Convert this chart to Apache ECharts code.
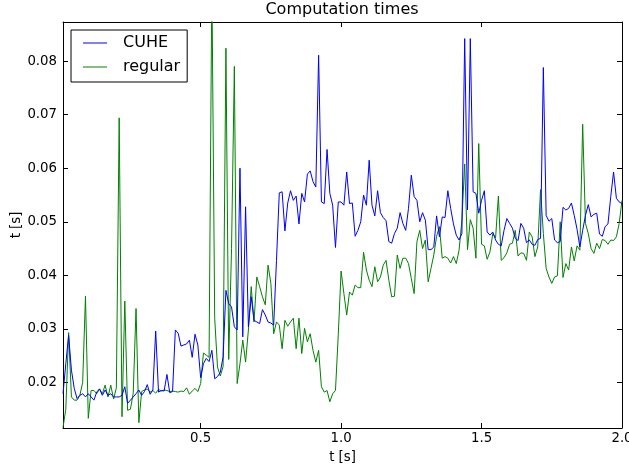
<!DOCTYPE html>
<html>
<head>
<meta charset="utf-8">
<script src="https://cdn.jsdelivr.net/npm/echarts@6/dist/echarts.min.js"></script>
<style>
  html, body { margin: 0; padding: 0; background: #fff; }
  #chart { width: 629px; height: 468px; }
</style>
</head>
<body>
<div id="chart"></div>
<script>
// sample times [s]
var times = [
  0.01, 0.02, 0.03, 0.04, 0.05, 0.06, 0.07, 0.08, 0.09, 0.10,
  0.11, 0.12, 0.13, 0.14, 0.15, 0.16, 0.17, 0.18, 0.19, 0.20,
  0.21, 0.22, 0.23, 0.24, 0.25, 0.26, 0.27, 0.28, 0.29, 0.30,
  0.31, 0.32, 0.33, 0.34, 0.35, 0.36, 0.37, 0.38, 0.39, 0.40,
  0.41, 0.42, 0.43, 0.44, 0.45, 0.46, 0.47, 0.48, 0.49, 0.50,
  0.51, 0.52, 0.53, 0.54, 0.55, 0.56, 0.57, 0.58, 0.59, 0.60,
  0.61, 0.62, 0.63, 0.64, 0.65, 0.66, 0.67, 0.68, 0.69, 0.70,
  0.71, 0.72, 0.73, 0.74, 0.75, 0.76, 0.77, 0.78, 0.79, 0.80,
  0.81, 0.82, 0.83, 0.84, 0.85, 0.86, 0.87, 0.88, 0.89, 0.90,
  0.91, 0.92, 0.93, 0.94, 0.95, 0.96, 0.97, 0.98, 0.99, 1.00,
  1.01, 1.02, 1.03, 1.04, 1.05, 1.06, 1.07, 1.08, 1.09, 1.10,
  1.11, 1.12, 1.13, 1.14, 1.15, 1.16, 1.17, 1.18, 1.19, 1.20,
  1.21, 1.22, 1.23, 1.24, 1.25, 1.26, 1.27, 1.28, 1.29, 1.30,
  1.31, 1.32, 1.33, 1.34, 1.35, 1.36, 1.37, 1.38, 1.39, 1.40,
  1.41, 1.42, 1.43, 1.44, 1.45, 1.46, 1.47, 1.48, 1.49, 1.50,
  1.51, 1.52, 1.53, 1.54, 1.55, 1.56, 1.57, 1.58, 1.59, 1.60,
  1.61, 1.62, 1.63, 1.64, 1.65, 1.66, 1.67, 1.68, 1.69, 1.70,
  1.71, 1.72, 1.73, 1.74, 1.75, 1.76, 1.77, 1.78, 1.79, 1.80,
  1.81, 1.82, 1.83, 1.84, 1.85, 1.86, 1.87, 1.88, 1.89, 1.90,
  1.91, 1.92, 1.93, 1.94, 1.95, 1.96, 1.97, 1.98, 1.99, 2.00
];

var cuhe = [
  0.0179, 0.0235, 0.0288, 0.0223, 0.0189, 0.0170, 0.0176, 0.0179, 0.0173, 0.0179,
  0.0173, 0.0167, 0.0182, 0.0188, 0.0176, 0.0186, 0.0176, 0.0179, 0.0173, 0.0173,
  0.0173, 0.0176, 0.0192, 0.0161, 0.0167, 0.0173, 0.0179, 0.0186, 0.0176, 0.0183,
  0.0196, 0.0178, 0.0186, 0.0296, 0.0182, 0.0185, 0.0184, 0.0215, 0.0181, 0.0183,
  0.0298, 0.0292, 0.0268, 0.0270, 0.0272, 0.0279, 0.0247, 0.0290, 0.0270, 0.0209,
  0.0235, 0.0245, 0.0239, 0.0260, 0.0207, 0.0211, 0.0219, 0.0248, 0.0372, 0.0347,
  0.0341, 0.0304, 0.0298, 0.0600, 0.0285, 0.0528, 0.0304, 0.0360, 0.0316, 0.0313,
  0.0310, 0.0336, 0.0326, 0.0313, 0.0311, 0.0307, 0.0428, 0.0554, 0.0556, 0.0483,
  0.0535, 0.0558, 0.0540, 0.0548, 0.0496, 0.0553, 0.0537, 0.0589, 0.0595, 0.0575,
  0.0565, 0.0811, 0.0537, 0.0534, 0.0635, 0.0553, 0.0531, 0.0452, 0.0537, 0.0537,
  0.0531, 0.0593, 0.0534, 0.0535, 0.0473, 0.0484, 0.0500, 0.0550, 0.0531, 0.0615,
  0.0531, 0.0511, 0.0558, 0.0517, 0.0508, 0.0502, 0.0463, 0.0460, 0.0478, 0.0488,
  0.0517, 0.0497, 0.0484, 0.0525, 0.0587, 0.0547, 0.0540, 0.0500, 0.0517, 0.0503,
  0.0448, 0.0448, 0.0453, 0.0511, 0.0472, 0.0509, 0.0508, 0.0558, 0.0525, 0.0496,
  0.0475, 0.0466, 0.0478, 0.0842, 0.0522, 0.0842, 0.0556, 0.0553, 0.0516, 0.0540,
  0.0558, 0.0481, 0.0475, 0.0481, 0.0466, 0.0458, 0.0455, 0.0484, 0.0506, 0.0497,
  0.0488, 0.0469, 0.0465, 0.0497, 0.0488, 0.0461, 0.0466, 0.0458, 0.0456, 0.0467,
  0.0469, 0.0788, 0.0512, 0.0501, 0.0506, 0.0466, 0.0461, 0.0463, 0.0527, 0.0522,
  0.0525, 0.0535, 0.0512, 0.0486, 0.0453, 0.0484, 0.0512, 0.0532, 0.0509, 0.0514,
  0.0516, 0.0477, 0.0473, 0.0491, 0.0496, 0.0547, 0.0593, 0.0544, 0.0537, 0.0534
];

var regular = [
  0.0116, 0.0150, 0.0293, 0.0173, 0.0167, 0.0167, 0.0176, 0.0200, 0.0361, 0.0133,
  0.0185, 0.0185, 0.0179, 0.0188, 0.0179, 0.0195, 0.0173, 0.0195, 0.0169, 0.0190,
  0.0694, 0.0136, 0.0352, 0.0148, 0.0150, 0.0180, 0.0338, 0.0125, 0.0183, 0.0186,
  0.0188, 0.0182, 0.0185, 0.0180, 0.0187, 0.0184, 0.0186, 0.0185, 0.0183, 0.0184,
  0.0183, 0.0182, 0.0184, 0.0183, 0.0190, 0.0178, 0.0184, 0.0189, 0.0183, 0.0198,
  0.0255, 0.0251, 0.0247, 0.0950, 0.0320, 0.0229, 0.0212, 0.0230, 0.0824, 0.0243,
  0.0450, 0.0790, 0.0198, 0.0235, 0.0279, 0.0238, 0.0298, 0.0379, 0.0313, 0.0397,
  0.0379, 0.0360, 0.0345, 0.0419, 0.0385, 0.0291, 0.0313, 0.0307, 0.0263, 0.0316,
  0.0305, 0.0313, 0.0320, 0.0263, 0.0320, 0.0254, 0.0301, 0.0276, 0.0291, 0.0260,
  0.0238, 0.0260, 0.0192, 0.0182, 0.0185, 0.0164, 0.0179, 0.0185, 0.0290, 0.0408,
  0.0366, 0.0326, 0.0369, 0.0363, 0.0382, 0.0377, 0.0377, 0.0443, 0.0410, 0.0391,
  0.0379, 0.0416, 0.0388, 0.0397, 0.0419, 0.0428, 0.0391, 0.0360, 0.0361, 0.0438,
  0.0413, 0.0432, 0.0432, 0.0422, 0.0394, 0.0366, 0.0463, 0.0484, 0.0450, 0.0466,
  0.0388, 0.0413, 0.0438, 0.0473, 0.0491, 0.0432, 0.0435, 0.0432, 0.0423, 0.0435,
  0.0422, 0.0447, 0.0503, 0.0608, 0.0448, 0.0504, 0.0488, 0.0432, 0.0646, 0.0458,
  0.0455, 0.0430, 0.0444, 0.0478, 0.0470, 0.0548, 0.0428, 0.0433, 0.0442, 0.0458,
  0.0460, 0.0484, 0.0436, 0.0442, 0.0441, 0.0428, 0.0481, 0.0472, 0.0435, 0.0453,
  0.0560, 0.0478, 0.0413, 0.0397, 0.0385, 0.0397, 0.0399, 0.0500, 0.0396, 0.0422,
  0.0410, 0.0453, 0.0427, 0.0455, 0.0447, 0.0682, 0.0497, 0.0478, 0.0450, 0.0441,
  0.0460, 0.0450, 0.0467, 0.0465, 0.0458, 0.0466, 0.0465, 0.0472, 0.0497, 0.0540
];

var seriesNames = ['CUHE', 'regular'];
var xMin = 0.01, xMax = 2.0;
var yMin = 0.0115, yMax = 0.0873;

var font = 'DejaVu Sans';

function pairs(ys) {
  return times.map(function (t, i) { return [t, ys[i]]; });
}

var chart = echarts.init(document.getElementById('chart'), null, { renderer: 'canvas' });

var tickStyle = { show: true, inside: true, length: 5, lineStyle: { color: '#000', width: 1 } };
var lineStyle = { show: true, lineStyle: { color: '#000', width: 1 } };

var option = {
  animation: false,
  backgroundColor: '#fff',
  title: {
    text: 'Computation times',
    left: 342,
    top: 2,
    padding: 0,
    textAlign: 'center',
    textStyle: { fontFamily: font, fontSize: 16, fontWeight: 'normal', color: '#000' }
  },
  legend: {
    orient: 'vertical',
    left: 71,
    top: 30,
    padding: [4, 7, 6, 12],
    itemGap: 6,
    itemWidth: 24,
    itemHeight: 1,
    icon: 'rect',
    borderColor: '#000',
    borderWidth: 1,
    backgroundColor: '#fff',
    data: seriesNames,
    textStyle: { fontFamily: font, fontSize: 16, color: '#000', lineHeight: 18, padding: [0, 0, 0, 11] }
  },
  grid: { left: 63, right: 7, top: 22, bottom: 40, containLabel: false, outerBoundsMode: 'none' },
  xAxis: [{
    type: 'value',
    min: xMin, max: xMax,
    splitNumber: 4,
    name: 't [s]',
    nameLocation: 'middle',
    nameGap: 23,
    nameMoveOverlap: false,
    nameTextStyle: { fontFamily: font, fontSize: 13.3, color: '#000' },
    axisLine: lineStyle,
    axisTick: tickStyle,
    splitLine: { show: false },
    axisLabel: {
      margin: 4, showMinLabel: false,
      fontFamily: font, fontSize: 13.3, color: '#000',
      formatter: function (v) { return v.toFixed(1); }
    }
  }, {
    type: 'value',
    position: 'top',
    min: xMin, max: xMax,
    splitNumber: 4,
    axisLine: lineStyle,
    axisTick: tickStyle,
    splitLine: { show: false },
    axisLabel: { show: false }
  }],
  yAxis: [{
    type: 'value',
    min: yMin, max: yMax,
    splitNumber: 8,
    name: 't [s]',
    nameLocation: 'middle',
    nameGap: 40,
    nameMoveOverlap: false,
    nameTextStyle: { fontFamily: font, fontSize: 13.3, color: '#000' },
    axisLine: lineStyle,
    axisTick: tickStyle,
    splitLine: { show: false },
    axisLabel: {
      margin: 6, showMinLabel: false, showMaxLabel: false,
      fontFamily: font, fontSize: 13.3, color: '#000'
    }
  }, {
    type: 'value',
    position: 'right',
    min: yMin, max: yMax,
    splitNumber: 8,
    axisLine: lineStyle,
    axisTick: tickStyle,
    splitLine: { show: false },
    axisLabel: { show: false }
  }],
  series: [{
    name: seriesNames[0],
    type: 'line',
    data: pairs(cuhe),
    showSymbol: false,
    symbol: 'none',
    clip: true,
    color: '#0000ff',
    lineStyle: { color: '#0000ff', width: 1 },
    z: 3
  }, {
    name: seriesNames[1],
    type: 'line',
    data: pairs(regular),
    showSymbol: false,
    symbol: 'none',
    clip: true,
    color: '#008000',
    lineStyle: { color: '#008000', width: 1 },
    z: 2
  }]
};

chart.setOption(option);
</script>
</body>
</html>
